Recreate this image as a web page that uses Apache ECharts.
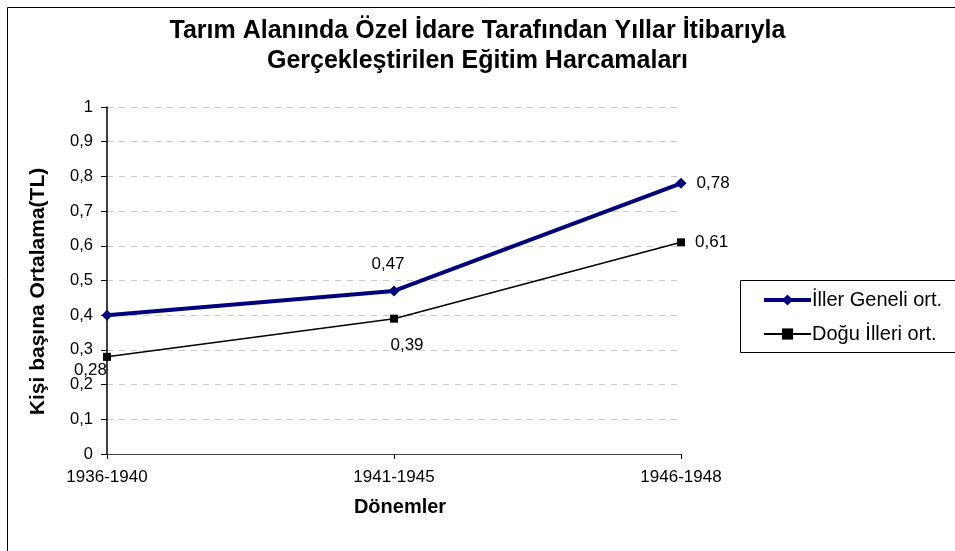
<!DOCTYPE html>
<html><head><meta charset="utf-8">
<script src="https://cdn.jsdelivr.net/npm/echarts@6/dist/echarts.min.js"></script>
<style>html,body{margin:0;padding:0;background:#fff}#c{width:955px;height:551px}</style>
</head><body><div id="c"></div>
<script>
const categories = ['1936-1940', '1941-1945', '1946-1948'];
const illerGeneli = [0.40, 0.47, 0.78];
const doguIlleri = [0.28, 0.39, 0.61];
const seriesNames = ['İller Geneli ort.', 'Doğu İlleri ort.'];
const titleText = 'Tarım Alanında Özel İdare Tarafından Yıllar İtibarıyla\nGerçekleştirilen Eğitim Harcamaları';

const F = 'Liberation Sans, Arial, sans-serif';
const fmt = v => String(v).replace('.', ',');
const chart = echarts.init(document.getElementById('c'), null, {renderer: 'canvas'});

const blueLabels = illerGeneli.map((v, i) => ({
  value: v,
  label: i === 0 ? {show: false} : (i === 1 ? {position: 'top', distance: 13, offset: [-6, 0]} : {position: 'right', distance: 10})
}));
const blackLabels = doguIlleri.map((v, i) => ({
  value: v,
  label: i === 0 ? {position: 'left', distance: 0, offset: [4, 13]} : (i === 1 ? {position: 'bottom', distance: 14, offset: [13, 0]} : {position: 'right', distance: 10})
}));

chart.setOption({
  animation: false,
  backgroundColor: '#fff',
  graphic: [
    {type: 'rect', shape: {x: 7.5, y: 7.5, width: 960, height: 560}, style: {fill: 'none', stroke: '#000', lineWidth: 1}, silent: true},
    {type: 'rect', shape: {x: 740.5, y: 280.5, width: 230, height: 72}, style: {fill: '#fff', stroke: '#000', lineWidth: 1}, silent: true, z: 1}
  ],
  title: {
    text: titleText,
    left: 'center', top: 11,
    textStyle: {fontFamily: F, fontSize: 25, fontWeight: 'bold', color: '#000', lineHeight: 30}
  },
  legend: {
    orient: 'vertical',
    left: 757, top: 285,
    itemWidth: 47, itemHeight: 14,
    itemGap: 14,
    z: 5,
    textStyle: {fontFamily: F, fontSize: 20, color: '#000', padding: [0, 0, 0, -4]},
    data: [
      {name: seriesNames[0], lineStyle: {width: 4}},
      {name: seriesNames[1], lineStyle: {width: 2}}
    ]
  },
  grid: {left: 107, right: 274, top: 107, bottom: 97, containLabel: false},
  xAxis: {
    type: 'category',
    data: categories,
    boundaryGap: false,
    name: 'Dönemler',
    nameLocation: 'middle',
    nameGap: 43,
    nameTextStyle: {fontFamily: F, fontSize: 20, fontWeight: 'bold', color: '#000', padding: [0, 0, 0, 12]},
    axisLine: {lineStyle: {color: '#404040', width: 1}},
    axisTick: {show: true, inside: false, length: 5, lineStyle: {color: '#000'}},
    axisLabel: {fontFamily: F, fontSize: 17, color: '#000', margin: 15},
    splitLine: {show: false}
  },
  yAxis: {
    type: 'value',
    min: 0, max: 1, interval: 0.1,
    name: 'Kişi başına Ortalama(TL)',
    nameLocation: 'middle',
    nameGap: 58,
    nameTextStyle: {fontFamily: F, fontSize: 21, fontWeight: 'bold', color: '#000', padding: [0, 22, 0, 0]},
    axisLine: {show: true, lineStyle: {color: '#000', width: 1.5}},
    axisTick: {show: true, inside: false, length: 6, lineStyle: {color: '#000'}},
    axisLabel: {fontFamily: F, fontSize: 16.5, color: '#000', margin: 14, formatter: v => fmt(Math.round(v * 10) / 10)},
    splitLine: {show: true, lineStyle: {color: '#c8c8c8', type: [6, 6], width: 1}}
  },
  series: [
    {
      name: seriesNames[0],
      type: 'line',
      data: blueLabels,
      symbol: 'diamond',
      symbolSize: 11,
      lineStyle: {color: '#000080', width: 4},
      itemStyle: {color: '#000080'},
      z: 3,
      label: {show: true, fontFamily: F, fontSize: 17, color: '#000', formatter: p => fmt(p.value)}
    },
    {
      name: seriesNames[1],
      type: 'line',
      data: blackLabels,
      symbol: 'rect',
      symbolSize: 8,
      lineStyle: {color: '#000', width: 1.5},
      itemStyle: {color: '#000'},
      z: 2,
      label: {show: true, fontFamily: F, fontSize: 17, color: '#000', formatter: p => fmt(p.value)}
    }
  ]
});
</script></body></html>
